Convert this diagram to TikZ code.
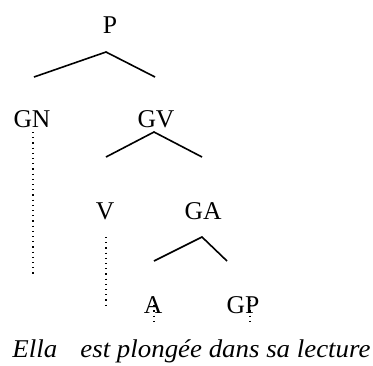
\documentclass[tikz,border=0pt]{standalone}
\usepackage{fontspec}
\setmainfont{Liberation Serif}
\newfontfamily\sentfont[FakeStretch=1.05]{Liberation Serif}
\begin{document}
\begin{tikzpicture}[x=0.5pt,y=-0.5pt,
  lbl/.style={inner sep=0pt,anchor=base,font=\fontsize{12.8}{15}\selectfont},
  word/.style={inner sep=0pt,anchor=base west,font=\sentfont\fontsize{12.8}{15}\selectfont\itshape},
  branch/.style={line width=0.8pt},
  dots/.style={dotted,line width=0.6pt}]
\useasboundingbox (0,0) rectangle (373,365);
% labels
\node[lbl] (P) at (110,33) {P};
\node[lbl] (GN) at (32,127) {GN};
\node[lbl] (GV) at (156,127) {GV};
\node[lbl] (V) at (105,219) {V};
\node[lbl] (GA) at (203,219) {GA};
\node[lbl] (A) at (153,313) {A};
\node[lbl] (GP) at (243,313) {GP};
\node[word] (ella) at (12,357) {Ella};
\node[word] (est) at (80,357) {est plongée dans sa lecture};
% branch coordinates
\coordinate (Pa) at (106,52);
\coordinate (Pl) at (34,77);
\coordinate (Pr) at (155,77);
\coordinate (GVa) at (154,132);
\coordinate (GVl) at (106,157);
\coordinate (GVr) at (202,157);
\coordinate (GAa) at (202,237);
\coordinate (GAl) at (154,261);
\coordinate (GAr) at (227,261);
\coordinate (GNt) at (33,132);
\coordinate (GNb) at (33,277);
\coordinate (Vt) at (106,237);
\coordinate (Vb) at (106,307);
\coordinate (At) at (154,300);
\coordinate (Ab) at (154,322);
\coordinate (GPt) at (250,300);
\coordinate (GPb) at (250,322);
% solid branches
\draw[branch] (Pl) -- (Pa) -- (Pr);
\draw[branch] (GVl) -- (GVa) -- (GVr);
\draw[branch] (GAl) -- (GAa) -- (GAr);
% dotted projections
\draw[dots] (GNt) -- (GNb);
\draw[dots] (Vt) -- (Vb);
\draw[dots] (At) -- (Ab);
\draw[dots] (GPt) -- (GPb);
\end{tikzpicture}
\end{document}
